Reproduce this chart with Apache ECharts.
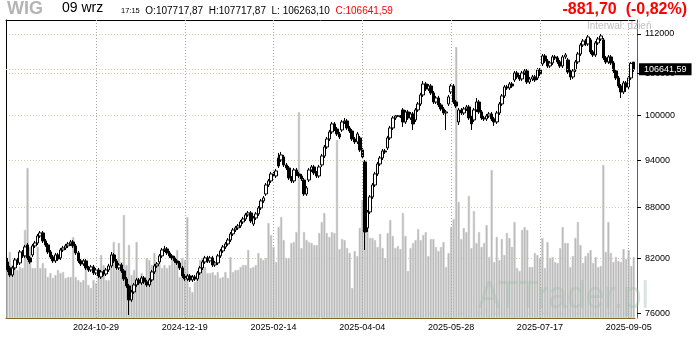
<!DOCTYPE html>
<html>
<head>
<meta charset="utf-8">
<style>
  html, body { margin: 0; padding: 0; background: #fff; }
  #chart { width: 700px; height: 340px; }
</style>
<script src="https://cdn.jsdelivr.net/npm/echarts@6/dist/echarts.min.js"></script>
</head>
<body>
<div id="chart"></div>
<script>
// WIG daily session calendar (GPW), 2024-09-10 .. 2025-09-09
const firstSession = '2024-09-10';
const lastSession = '2025-09-09';
const closedDays = ['2024-11-01', '2024-11-11', '2024-12-24', '2024-12-25', '2024-12-26', '2024-12-31',
  '2025-01-01', '2025-01-06', '2025-04-18', '2025-04-21', '2025-05-01', '2025-06-19', '2025-08-15'];

const opens = [
  81610, 80940, 80150, 80940, 81840, 81500, 82750, 82300, 83560, 82070,
  82410, 83450, 83790, 84610, 84970, 84030, 83560, 82750, 82180, 81730,
  82410, 82070, 82980, 83210, 83450, 83680, 83910, 83450, 82640, 81730,
  81390, 81730, 80940, 80710, 81050, 80380, 80710, 79930, 80490, 80260,
  80710, 81160, 82410, 81730, 80940, 81270, 80600, 79710, 78940, 77420,
  78280, 79050, 79600, 79270, 79820, 79380, 79050, 79600, 80490, 81160,
  81610, 82300, 82980, 83100, 82640, 82300, 82070, 81730, 81500, 80940,
  80040, 79710, 80040, 79600, 79930, 79710, 80380, 80940, 81610, 82070,
  81730, 82070, 81270, 81500, 82300, 82870, 83330, 83680, 84140, 84850,
  85320, 85560, 85800, 86270, 86630, 87120, 87360, 86030, 86750, 87240,
  87970, 88830, 89690, 90820, 91330, 92220, 91960, 94290, 94030, 94420,
  93380, 92990, 91710, 91330, 92730, 92220, 91960, 91450, 89690, 91450,
  92730, 93120, 92350, 91960, 93380, 94550, 95740, 96810, 97760, 98850,
  98160, 97490, 98030, 99120, 99260, 98300, 97890, 96810, 96410, 96950,
  95340, 93770, 85560, 87480, 89320, 90820, 92220, 93510, 94290, 95210,
  95610, 96950, 98300, 99680, 99950, 99950, 100790, 99120, 100510, 99680,
  100230, 99400, 100790, 101630, 102910, 104490, 103770, 104200, 103200, 101910,
  102480, 101490, 100930, 100370, 101630, 103340, 104200, 101910, 99120, 100790,
  100370, 100930, 101210, 99680, 99400, 100790, 101910, 100510, 99680, 99540,
  99950, 100230, 99540, 99120, 100370, 101630, 102770, 104060, 103920, 104490,
  105070, 106100, 105520, 105220, 106100, 106400, 104780, 105220, 105520, 105370,
  106540, 107440, 108640, 107880, 107140, 107590, 108490, 108340, 107740, 107140,
  108490, 108030, 106250, 105520, 106540, 107740, 108940, 110310, 110920, 110460,
  111080, 109240, 108790, 110620, 111230, 111080, 108340, 107740, 108490, 107590,
  106400, 105370, 104200, 103340, 104640, 104060, 105370, 107717.87
];

const closes = [
  80940, 80150, 80940, 81840, 81500, 82750, 82300, 83330, 82070, 81610,
  83450, 83790, 84610, 84970, 84030, 83560, 82750, 82180, 81730, 82410,
  81950, 82980, 83210, 83450, 83680, 83910, 83450, 82640, 81730, 81390,
  81730, 80940, 80710, 81050, 80380, 80710, 80040, 80490, 80260, 80710,
  81160, 82410, 81730, 80940, 81270, 80600, 79710, 78940, 77420, 78280,
  79050, 79600, 79270, 79820, 79380, 79050, 79600, 80490, 81160, 81390,
  82300, 82980, 83100, 82640, 82300, 82070, 81730, 81500, 80940, 80040,
  79710, 80040, 79600, 79930, 79710, 80380, 80940, 81610, 82070, 81730,
  82070, 81270, 81500, 82300, 82870, 83330, 83680, 84140, 84850, 85320,
  85560, 85800, 86270, 86630, 87120, 87360, 86390, 86750, 87240, 87970,
  88830, 89200, 90820, 91330, 92220, 92090, 92600, 93250, 94690, 93380,
  92990, 91710, 91330, 92730, 92220, 91960, 91580, 89690, 90440, 92730,
  93120, 92350, 91960, 93120, 94550, 95740, 96810, 97760, 98850, 98160,
  97490, 97080, 99120, 99260, 98300, 97890, 96810, 96410, 97490, 95340,
  94420, 85080, 87480, 89320, 90820, 92220, 93510, 94290, 95210, 95080,
  96950, 98300, 99680, 99950, 99940, 99820, 99120, 100510, 99680, 100230,
  98850, 100790, 101630, 102910, 104490, 103770, 104200, 103200, 101910, 102480,
  101490, 100930, 100370, 100510, 102630, 104200, 101910, 101350, 100790, 100370,
  100930, 101210, 99680, 98850, 100790, 101910, 100510, 99680, 99540, 99950,
  100230, 99540, 99120, 100370, 101630, 102770, 104060, 103920, 104490, 104200,
  106100, 105520, 105220, 106100, 106400, 104780, 105220, 105520, 105070, 106540,
  105960, 108640, 107880, 107140, 107590, 108490, 108340, 107740, 107140, 108490,
  108790, 106250, 105520, 106400, 107740, 108940, 110310, 110920, 110460, 111540,
  109240, 108790, 110620, 111230, 111700, 108340, 107740, 108490, 107590, 106400,
  105370, 104200, 103340, 104640, 104060, 105370, 107523.29, 106641.59
];

const lows = [
  80490, 79930, 79930, 80710, 81270, 81270, 82070, 82070, 81840, 81390,
  82180, 83210, 83560, 84380, 83790, 83330, 82520, 81950, 81500, 81500,
  81730, 81840, 82750, 82980, 83210, 83450, 83210, 82410, 81500, 81160,
  81160, 80710, 80490, 80490, 80150, 80150, 79820, 79710, 80040, 80040,
  80490, 80940, 81500, 80710, 80710, 80380, 79490, 78720, 75820, 77200,
  78070, 78830, 79050, 79050, 79160, 78830, 78830, 79380, 80260, 80940,
  81390, 82070, 82750, 82410, 82070, 81840, 81500, 81270, 80710, 79820,
  79490, 79490, 79380, 79380, 79490, 79490, 80150, 80710, 81390, 81500,
  81500, 81050, 81050, 81270, 82070, 82640, 83100, 83450, 83910, 84610,
  85080, 85320, 85560, 86030, 86390, 86880, 86150, 85800, 86510, 87000,
  87720, 88580, 89450, 90570, 91070, 91840, 91710, 92990, 93770, 93120,
  92730, 91450, 91070, 91070, 91960, 91710, 91330, 89450, 89450, 91200,
  92480, 92090, 91710, 91710, 93120, 94290, 95480, 96540, 97490, 97890,
  97220, 96810, 97760, 98850, 98030, 97620, 96540, 96140, 96140, 95080,
  94160, 82980, 85080, 87240, 89070, 90570, 91960, 93250, 94030, 94820,
  95340, 96680, 98030, 99400, 99820, 99680, 98440, 98850, 99400, 99400,
  98030, 99120, 100510, 101350, 102630, 103480, 103480, 102910, 101630, 101630,
  101210, 100650, 100090, 98030, 101350, 103050, 101630, 101070, 98710, 100090,
  100090, 100650, 99400, 98030, 99120, 100510, 100230, 99400, 99260, 99260,
  99680, 99260, 98580, 98850, 100090, 101350, 102480, 103630, 103630, 103920,
  104780, 105220, 104930, 104930, 105810, 104490, 104490, 104930, 104780, 105070,
  105660, 107140, 107590, 106840, 106840, 107290, 108030, 107440, 106840, 106840,
  108180, 105960, 105070, 105220, 106250, 107440, 108640, 110000, 110160, 110160,
  108940, 108490, 108490, 110310, 110920, 108030, 107440, 107440, 107290, 106100,
  105070, 103920, 102480, 103050, 103340, 103770, 105070, 106263.10
];

const highs = [
  82070, 81160, 81160, 82070, 82070, 82980, 82980, 83560, 83790, 82300,
  83680, 84030, 84850, 85200, 85200, 84260, 83790, 82980, 82410, 82640,
  82640, 83210, 83450, 83680, 83910, 84140, 84140, 83680, 82870, 81950,
  81950, 81950, 81160, 81270, 81270, 80940, 80940, 80710, 80710, 80940,
  81390, 82750, 82640, 81950, 81500, 81500, 80820, 79930, 79160, 78500,
  79270, 79820, 79820, 80040, 80040, 79600, 79820, 80710, 81390, 81610,
  82520, 83210, 83450, 83330, 82870, 82520, 82300, 81950, 81730, 81160,
  80260, 80260, 80260, 80150, 80150, 80600, 81160, 81840, 82300, 82300,
  82300, 82300, 81730, 82520, 83100, 83560, 83910, 84380, 85080, 85560,
  85800, 86030, 86510, 86880, 87360, 87600, 87600, 87000, 87480, 88210,
  89070, 89450, 91070, 91580, 92480, 92480, 92860, 94950, 95080, 94690,
  93640, 93250, 91960, 92990, 92990, 92480, 92220, 91710, 90700, 92990,
  93380, 93380, 92600, 93380, 94820, 96010, 97080, 98030, 99120, 99120,
  98440, 97760, 99400, 99680, 99540, 98580, 98160, 97080, 97760, 97220,
  95610, 94030, 87720, 89570, 91070, 92480, 93770, 94550, 95480, 95480,
  97220, 98580, 99950, 100090, 100090, 100090, 101070, 100790, 100790, 100510,
  100510, 101070, 101910, 103200, 104930, 104780, 104490, 104490, 103480, 102770,
  102770, 101770, 101210, 100790, 102910, 104490, 104490, 102200, 101070, 101070,
  101210, 101490, 101490, 99950, 101070, 102480, 102200, 100790, 99950, 100230,
  100510, 100510, 99820, 100650, 101910, 103050, 104350, 104350, 104780, 104780,
  106400, 106400, 105810, 106400, 106690, 106690, 105520, 105810, 105810, 106840,
  106840, 108940, 108940, 108180, 107880, 108790, 108790, 108640, 108030, 108790,
  109090, 108340, 106540, 106690, 108030, 109240, 110620, 111230, 111230, 111850,
  111390, 109540, 110920, 111540, 112010, 111390, 108640, 108790, 108790, 107880,
  106690, 105660, 104490, 104930, 104930, 105660, 107740, 107717.87
];

// session turnover, mln zł
const turnover = [
  480, 660, 530, 580, 480, 510, 500, 880, 1500, 710,
  500, 500, 710, 500, 550, 500, 410, 450, 400, 430,
  480, 450, 460, 400, 410, 410, 810, 410, 380, 360,
  380, 500, 330, 300, 380, 350, 410, 630, 530, 380,
  380, 600, 760, 480, 750, 560, 1030, 530, 730, 430,
  480, 760, 360, 450, 350, 600, 580, 530, 650, 550,
  550, 500, 530, 500, 530, 630, 550, 680, 410, 600,
  580, 1010, 310, 260, 360, 450, 580, 600, 510, 450,
  450, 460, 430, 460, 400, 410, 460, 400, 610, 460,
  480, 480, 510, 530, 530, 680, 500, 510, 530, 650,
  600, 580, 600, 950, 830, 710, 560, 910, 1010, 780,
  600, 600, 750, 760, 860, 2060, 700, 860, 780, 760,
  750, 730, 730, 850, 960, 1050, 850, 810, 860, 850,
  1780, 690, 790, 780, 700, 650, 300, 670, 620, 900,
  1180, 1280, 930, 800, 800, 780, 710, 840, 700, 600,
  850, 980, 820, 700, 720, 690, 1050, 820, 470, 700,
  750, 780, 890, 780, 830, 860, 620, 790, 790, 710,
  670, 710, 760, 510, 650, 910, 990, 2710, 1160, 790,
  900, 860, 1220, 700, 1070, 750, 860, 710, 750, 930,
  610, 1480, 560, 810, 580, 790, 630, 850, 800, 710,
  960, 500, 470, 880, 910, 880, 510, 510, 650, 630,
  600, 800, 500, 760, 600, 610, 560, 550, 700, 910,
  750, 750, 510, 620, 800, 960, 730, 550, 620, 650,
  680, 550, 610, 510, 520, 1530, 660, 960, 650, 560,
  610, 570, 560, 690, 590, 680, 520, 610
];

const priceTicks = [76000, 82000, 88000, 94000, 100000, 106000, 112000];
const dateLabelStep = 35;        // one date label every 35 sessions
const sessionTime = '17:15';
const monthNames = ['sty', 'lut', 'mar', 'kwi', 'maj', 'cze', 'lip', 'sie', 'wrz', 'paź', 'lis', 'gru'];

function sessionDates(from, to, closed) {
  const out = [];
  const d = new Date(from + 'T00:00:00Z');
  const end = new Date(to + 'T00:00:00Z');
  while (d <= end) {
    const wd = d.getUTCDay();
    const s = d.toISOString().slice(0, 10);
    if (wd !== 0 && wd !== 6 && closed.indexOf(s) < 0) out.push(s);
    d.setUTCDate(d.getUTCDate() + 1);
  }
  return out;
}

const dates = sessionDates(firstSession, lastSession, closedDays);
const candles = opens.map((o, i) => [o, closes[i], lows[i], highs[i]]);

const last = candles.length - 1;
const lastClose = closes[last];
const prevClose = closes[last - 1];
const change = lastClose - prevClose;
const changePct = change / prevClose * 100;
const pl = v => v.toFixed(2).replace('.', ',');
const lastDate = dates[last];
const headerDate = lastDate.slice(8, 10) + ' ' + monthNames[+lastDate.slice(5, 7) - 1];

const labelAt = idx => idx >= dateLabelStep && idx % dateLabelStep === 0;
const gridDates = dates.filter((d, i) => labelAt(i));

const BROWN = '#7d5e1a';
const FONT = 'Liberation Sans';

const chart = echarts.init(document.getElementById('chart'), null, { renderer: 'canvas' });

chart.setOption({
  animation: false,
  backgroundColor: '#fff',
  grid: { left: 6, right: 65, top: 20, bottom: 22, containLabel: false, outerBoundsMode: 'none' },
  xAxis: [
    {
      type: 'category', data: dates, boundaryGap: true, position: 'bottom',
      axisLine: { show: true, lineStyle: { color: BROWN, width: 1 } },
      axisTick: { show: false },
      axisLabel: { interval: labelAt, color: '#000', fontFamily: FONT, fontSize: 9, margin: 5 },
      splitLine: { show: false }
    },
    {
      type: 'category', data: dates, boundaryGap: true, position: 'top',
      axisLine: { show: true, lineStyle: { color: '#000', width: 1 } },
      axisTick: { show: false }, axisLabel: { show: false }, splitLine: { show: false }
    }
  ],
  yAxis: [
    {
      type: 'log', logBase: 10, position: 'right', offset: 2,
      min: 75500, max: 114200,
      axisLine: { show: true, lineStyle: { color: BROWN, width: 1 } },
      axisTick: { show: true, length: 4, customValues: priceTicks, lineStyle: { color: '#000' } },
      axisLabel: {
        customValues: priceTicks, color: '#000', fontFamily: FONT, fontSize: 9, margin: 8,
        formatter: v => String(Math.round(v))
      },
      splitLine: { show: true, lineStyle: { color: '#dccaa6', type: [1, 2], width: 1 } }
    },
    {
      type: 'value', position: 'left', min: 0, max: 2980,
      axisLine: { show: true, lineStyle: { color: '#000', width: 1 } },
      axisTick: { show: false }, axisLabel: { show: false }, splitLine: { show: false }
    }
  ],
  series: [
    {
      name: 'Obrót', type: 'bar', xAxisIndex: 0, yAxisIndex: 1,
      data: turnover, barWidth: 2.2, z: 1,
      itemStyle: { color: '#b6b6b6', borderColor: '#cdcdcd', borderWidth: 0.6 },
      silent: true,
      markLine: {
        silent: true, symbol: ['none', 'none'], label: { show: false },
        lineStyle: { color: '#a8a8a8', type: [1, 2], width: 1 },
        data: gridDates.map(d => ({ xAxis: d }))
      }
    },
    {
      name: 'WIG', type: 'candlestick', xAxisIndex: 0, yAxisIndex: 0,
      data: candles, barWidth: 3, z: 3,
      itemStyle: {
        color: '#fff', color0: '#000',
        borderColor: '#000', borderColor0: '#000', borderColorDoji: '#000', borderWidth: 1
      },
      markLine: {
        silent: true, symbol: ['none', 'none'],
        lineStyle: { color: '#dccaa6', type: [1, 2], width: 1 },
        label: {
          show: true, position: 'end', distance: 4,
          formatter: () => pl(lastClose),
          color: '#fff', backgroundColor: '#000', padding: [2, 5, 1, 5],
          fontFamily: FONT, fontSize: 9
        },
        data: [{ yAxis: lastClose }]
      }
    }
  ],
  graphic: [
    {
      type: 'text', left: 7, top: 0,
      style: { text: 'WIG', fill: '#b4b4b4', font: 'bold 18px "Liberation Sans"' }
    },
    {
      type: 'text', left: 62, top: 1,
      style: { text: headerDate, fill: '#000', font: '14px "Liberation Sans"' }
    },
    {
      type: 'text', left: 121, top: 6,
      style: {
        text: '{t|' + sessionTime + '}  {v|O:' + pl(opens[last]) + '}  {v|H:' + pl(highs[last]) +
          '}  {v|L: ' + pl(lows[last]) + '}  {c|C:' + pl(lastClose) + '}',
        font: '10px "Liberation Sans"', fill: '#000',
        rich: {
          t: { fontFamily: FONT, fontSize: 7.5, fill: '#000' },
          v: { fontFamily: FONT, fontSize: 10, fill: '#000' },
          c: { fontFamily: FONT, fontSize: 10, fill: '#ff0000' }
        }
      }
    },
    {
      type: 'text', right: 13, top: 2,
      style: {
        text: pl(change) + '  (' + pl(changePct) + '%)',
        fill: '#ff0000', font: 'bold 16px "Liberation Sans"'
      }
    },
    {
      type: 'text', left: 587, top: 21, z: 50,
      style: { text: 'Interwał: dzień', fill: '#c0c0c0', font: '10px "Liberation Sans"' }
    },
    {
      type: 'text', x: 478, y: 279, scaleX: 0.88, z: 60, silent: true,
      style: {
        text: 'ATTrader.pl', fill: 'rgba(165,190,178,0.42)',
        font: '38px "Liberation Sans"', verticalAlign: 'top'
      }
    }
  ]
});
</script>
</body>
</html>
